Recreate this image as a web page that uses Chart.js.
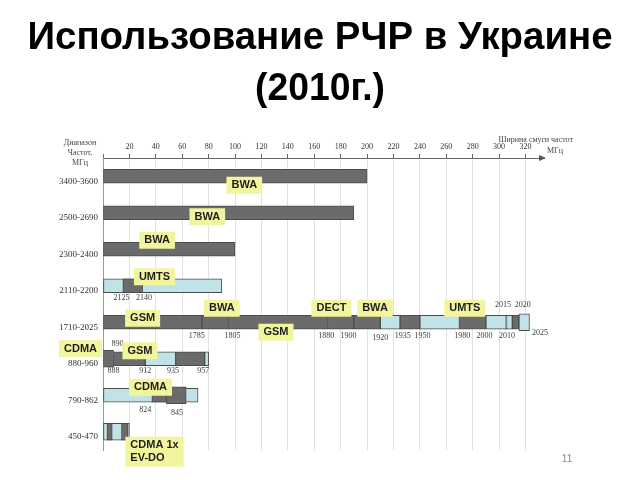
<!DOCTYPE html>
<html>
<head>
<meta charset="utf-8">
<script src="https://cdn.jsdelivr.net/npm/chart.js@4"></script>
<style>
  html, body { margin: 0; padding: 0; background: #fff; }
  canvas { display: block; }
</style>
</head>
<body>
<canvas id="bands" width="640" height="480"></canvas>
<script>
// frequency bands (rows) and where each band starts, MHz
const bands = ["3400-3600", "2500-2690", "2300-2400", "2110-2200", "1710-2025", "880-960", "790-862", "450-470"];
const bandStart = [3400, 2500, 2300, 2110, 1710, 880, 790, 450];

// segments: [row, from MHz, to MHz]
const darkSegs = [
  [0, 3400, 3600], [1, 2500, 2690], [2, 2300, 2400], [3, 2125, 2140],
  [4, 1710, 1785], [4, 1785, 1805], [4, 1805, 1880], [4, 1880, 1900], [4, 1900, 1920],
  [4, 1935, 1950], [4, 1980, 2000], [4, 2015, 2016], [4, 2020, 2025],
  [5, 888, 912], [5, 935, 957], [6, 827, 838]
];
const lightSegs = [
  [3, 2110, 2200], [4, 1920, 1935], [4, 1950, 1980], [4, 2000, 2020],
  [5, 912, 935], [5, 957, 960], [6, 790, 862]
];
const darkTall = [[5, 880, 888], [6, 838, 853], [7, 453, 457], [7, 464, 469]];
const lightTall = [[4, 2025, 2033], [7, 450, 470]];

// x axis ticks (bandwidth, MHz)
const tickValues = [0, 20, 40, 60, 80, 100, 120, 140, 160, 180, 200, 220, 240, 260, 280, 300, 320];

// service labels: [text, row, MHz, vertical shift]
const tags = [
  ["BWA", 0, 3507, 9], ["BWA", 1, 2579, 4], ["BWA", 2, 2341, -9], ["UMTS", 3, 2149, -9],
  ["GSM", 4, 1740, -4], ["BWA", 4, 1800, -14], ["DECT", 4, 1883, -14], ["BWA", 4, 1916, -14],
  ["UMTS", 4, 1984, -14], ["GSM", 4, 1841, 10],
  ["CDMA", 5, 863, -10], ["GSM", 5, 908, -8], ["CDMA", 6, 826, -8],
  ["CDMA 1x\nEV-DO", 7, 489, 20]
];

// boundary numbers: [text, row, MHz, vertical shift]
const notes = [
  ["2125", 3, 2124, 12], ["2140", 3, 2141, 12],
  ["1785", 4, 1781, 14], ["1805", 4, 1808, 14], ["1880", 4, 1879, 14], ["1900", 4, 1896, 14],
  ["1920", 4, 1920, 16], ["1935", 4, 1937, 14], ["1950", 4, 1952, 14], ["1980", 4, 1982, 14],
  ["2000", 4, 1999, 14], ["2010", 4, 2016, 14], ["2015", 4, 2013, -17], ["2020", 4, 2028, -17],
  ["2025", 4, 2041, 11],
  ["890", 5, 891, -15], ["888", 5, 888, 12], ["912", 5, 912, 12], ["935", 5, 933, 12], ["957", 5, 956, 12],
  ["824", 6, 822, 15], ["845", 6, 846, 18]
];

const DARK = "#6b6b6b";
const LIGHT = "#c0e3e8";
const EDGE = "#4b4b4b";

function toPoints(segs) {
  return segs.map(([row, a, b]) => ({ x: [a - bandStart[row], b - bandStart[row]], y: bands[row] }));
}

function segSet(segs, fill, thick) {
  return {
    data: toPoints(segs),
    backgroundColor: fill,
    borderColor: EDGE,
    borderWidth: 1,
    borderSkipped: false,
    barThickness: thick,
    grouped: false
  };
}

const serif = '"Liberation Serif", "DejaVu Serif", serif';
const sans = '"Liberation Sans", Arial, sans-serif';

const overlay = {
  id: "overlay",
  beforeDraw(chart) {
    const ctx = chart.ctx;
    ctx.save();
    ctx.fillStyle = "#fff";
    ctx.fillRect(0, 0, chart.width, chart.height);

    // slide title
    ctx.fillStyle = "#000";
    ctx.textAlign = "center";
    ctx.textBaseline = "alphabetic";
    ctx.font = "bold 38px " + sans;
    fitText(ctx, "Использование РЧР в Украине", 320, 49, 585);
    fitText(ctx, "(2010г.)", 320, 100, 130);

    // page number
    ctx.font = "10px " + sans;
    ctx.fillStyle = "#8a8a8a";
    ctx.fillText("11", 567, 462);
    ctx.restore();
  },
  afterDatasetsDraw(chart) {
    const { ctx, scales: { x, y } } = chart;
    ctx.save();

    // axis arrow
    const ay = x.bottom;
    ctx.fillStyle = "#555";
    ctx.beginPath();
    ctx.moveTo(x.right + 2, ay);
    ctx.lineTo(x.right - 5, ay - 3);
    ctx.lineTo(x.right - 5, ay + 3);
    ctx.closePath();
    ctx.fill();

    // axis captions
    ctx.fillStyle = "#444";
    ctx.font = "8px " + serif;
    ctx.textBaseline = "middle";
    ctx.textAlign = "center";
    const lx = chart.chartArea.left - 23;
    ctx.fillText("Диапазон", lx, 143);
    ctx.fillText("Частот,", lx, 153);
    ctx.fillText("МГц", lx, 163);
    ctx.textAlign = "right";
    ctx.fillText("Ширина смуги частот", x.right + 29, 140);
    ctx.textAlign = "left";
    ctx.fillText("МГц", x.right + 3, 151);

    // boundary numbers
    ctx.textAlign = "center";
    ctx.fillStyle = "#3a3a3a";
    ctx.font = "8px " + serif;
    notes.forEach(([t, row, f, dy]) => {
      ctx.fillText(t, x.getPixelForValue(f - bandStart[row]), y.getPixelForValue(row) + dy);
    });

    // yellow service labels
    ctx.font = "bold 11px " + sans;
    ctx.textAlign = "left";
    tags.forEach(([t, row, f, dy]) => {
      const lines = t.split("\n");
      const w = Math.max(...lines.map(l => ctx.measureText(l).width)) + 10;
      const h = lines.length * 13 + 4;
      const cx = x.getPixelForValue(f - bandStart[row]);
      const cy = y.getPixelForValue(row) + dy;
      ctx.fillStyle = "#f3f49e";
      ctx.fillRect(cx - w / 2, cy - h / 2, w, h);
      ctx.fillStyle = "#1e1e1e";
      lines.forEach((l, i) => {
        ctx.fillText(l, cx - w / 2 + 5, cy - h / 2 + 2 + 6.5 + i * 13);
      });
    });
    ctx.restore();
  }
};

function fitText(ctx, text, cx, baseY, width) {
  const w = ctx.measureText(text).width;
  const k = width / w;
  ctx.save();
  ctx.translate(cx, baseY);
  ctx.scale(k, 1);
  ctx.fillText(text, 0, 0);
  ctx.restore();
}

new Chart(document.getElementById("bands"), {
  type: "bar",
  data: {
    labels: bands,
    // first dataset is painted last (on top)
    datasets: [
      segSet(darkTall, DARK, 17),
      segSet(darkSegs, DARK, 14),
      segSet(lightTall, LIGHT, 17),
      segSet(lightSegs, LIGHT, 14)
    ]
  },
  options: {
    indexAxis: "y",
    responsive: false,
    animation: false,
    devicePixelRatio: 1,
    layout: { padding: { left: 53, right: 96, top: 136, bottom: 30 } },
    plugins: { legend: { display: false }, tooltip: { enabled: false } },
    scales: {
      x: {
        type: "linear",
        position: "top",
        min: 0,
        max: 334,
        afterBuildTicks: s => { s.ticks = tickValues.map(v => ({ value: v })); },
        afterFit: s => { s.height = 22; },
        ticks: {
          autoSkip: false,
          maxRotation: 0,
          padding: 2,
          color: "#333",
          font: { family: serif, size: 8 },
          callback: v => (v > 0 ? v : "")
        },
        grid: {
          tickLength: 4,
          color: c => (c.tick && c.tick.value > 0) ? "#e2e2e2" : "rgba(0,0,0,0)",
          tickColor: "#666"
        },
        border: { display: true, color: "#666", width: 1 }
      },
      y: {
        type: "category",
        afterFit: s => { s.width = 50; },
        ticks: {
          padding: 5,
          labelOffset: 5,
          color: "#333",
          font: { family: serif, size: 9 }
        },
        grid: { display: false, drawTicks: false },
        border: { display: true, color: "#9a9a9a", width: 1 }
      }
    }
  },
  plugins: [overlay]
});
</script>
</body>
</html>
